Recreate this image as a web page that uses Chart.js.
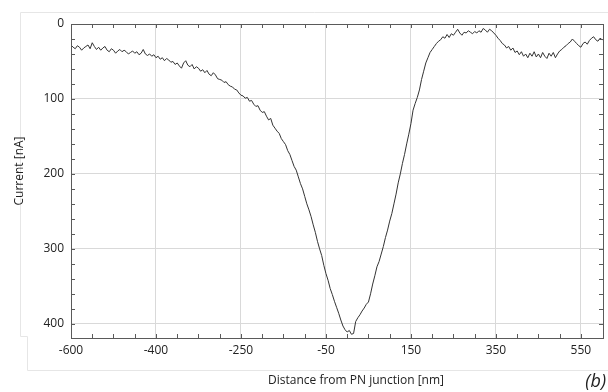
<!DOCTYPE html>
<html>
<head>
<meta charset="utf-8">
<script src="https://cdn.jsdelivr.net/npm/chart.js@4.4.1/dist/chart.umd.min.js"></script>
<style>
  html, body { margin: 0; padding: 0; background: #fff; }
  #wrap { width: 608px; height: 392px; }
</style>
</head>
<body>
<div id="wrap"><canvas id="myChart" width="608" height="392"></canvas></div>
<script>
// distance from the junction [nm] and measured current [nA]
const distance = [
  -650, -645, -640, -635, -630, -625, -620, -615, -610, -605,
  -600, -595, -590, -585, -580, -575, -570, -565, -560, -555,
  -550, -545, -540, -535, -530, -525, -520, -515, -510, -505,
  -500, -495, -490, -485, -480, -475, -470, -465, -460, -455,
  -450, -445, -440, -435, -430, -425, -420, -415, -410, -405,
  -400, -395, -390, -385, -380, -375, -370, -365, -360, -355,
  -350, -345, -340, -335, -330, -325, -320, -315, -310, -305,
  -300, -295, -290, -285, -280, -275, -270, -265, -260, -255,
  -250, -245, -240, -235, -230, -225, -220, -215, -210, -205,
  -200, -195, -190, -185, -180, -175, -170, -165, -160, -155,
  -150, -145, -140, -135, -130, -125, -120, -115, -110, -105,
  -100, -95, -90, -85, -80, -75, -70, -65, -60, -55,
  -50, -45, -40, -35, -30, -25, -20, -15, -10, -5,
  0, 5, 10, 15, 20, 25, 30, 35, 40, 45,
  50, 55, 60, 65, 70, 75, 80, 85, 90, 95,
  100, 105, 110, 115, 120, 125, 130, 135, 140, 145,
  150, 155, 160, 165, 170, 175, 180, 185, 190, 195,
  200, 205, 210, 215, 220, 225, 230, 235, 240, 245,
  250, 255, 260, 265, 270, 275, 280, 285, 290, 295,
  300, 305, 310, 315, 320, 325, 330, 335, 340, 345,
  350, 355, 360, 365, 370, 375, 380, 385, 390, 395,
  400, 405, 410, 415, 420, 425, 430, 435, 440, 445,
  450, 455, 460, 465, 470, 475, 480, 485, 490, 495,
  500, 505, 510, 515, 520, 525, 530, 535, 540, 545,
  550, 555, 560, 565, 570, 575, 580, 585, 590, 595,
  600
];
const current = [
  28, 31, 33, 29, 31, 35, 32, 30, 28, 33,
  25, 30, 34, 31, 35, 32, 30, 35, 37, 33,
  35, 39, 36, 34, 37, 35, 37, 40, 38, 36,
  39, 37, 41, 39, 34, 40, 42, 40, 43, 41,
  45, 43, 47, 45, 49, 46, 48, 51, 50, 54,
  52, 56, 59, 52, 49, 55, 57, 54, 60, 57,
  59, 63, 61, 65, 62, 67, 69, 65, 68, 73,
  74, 75, 78, 77, 81, 83, 84, 87, 88, 92,
  95, 96, 99, 98, 103, 102, 107, 110, 109, 115,
  118, 117, 123, 128, 126, 135, 139, 143, 146, 153,
  157, 161, 169, 174, 182, 190, 195, 204, 213, 220,
  230, 240, 248, 257, 268, 278, 290, 300, 309, 322,
  333, 342, 353, 361, 370, 378, 386, 395, 403, 408,
  411, 409, 414, 413, 397, 392, 388, 383, 379, 374,
  371, 360, 347, 336, 324, 317, 307, 297, 285, 275,
  263, 253, 240, 227, 212, 200, 186, 174, 160, 147,
  133, 115, 106, 98, 88, 74, 63, 52, 45, 38,
  34, 30, 26, 23, 21, 17, 19, 14, 18, 13,
  15, 11, 7, 12, 15, 11, 12, 9, 11, 13,
  10, 12, 9, 11, 6, 8, 11, 7, 9, 12,
  15, 19, 22, 26, 28, 32, 30, 35, 32, 38,
  36, 41, 37, 43, 40, 45, 39, 43, 37, 44,
  40, 45, 38, 43, 46, 39, 43, 38, 45, 40,
  36, 34, 31, 29, 26, 24, 20, 23, 26, 29,
  31, 26, 24, 27, 22, 19, 17, 21, 23, 19,
  21
];

const xTickVals = [-650, -450, -250, -50, 150, 350, 550];
const xTickLabels = ['-600', '-400', '-250', '-50', '150', '350', '550'];
const xMinor = [-600, -550, -500, -400, -350, -300, -200, -150, -100, 0, 50, 100, 200, 250, 300, 400, 450, 500];
const yTickVals = [0, 100, 200, 300, 400];
const yMinor = [20, 40, 60, 80, 120, 140, 160, 180, 220, 240, 260, 280, 320, 340, 360, 380];

const fontFam = "'Open Sans', 'Noto Sans', sans-serif";

const frame = {
  id: 'frame',
  beforeDraw(chart) {
    const c = chart.ctx;
    c.save();
    c.strokeStyle = '#e6e6e6';
    c.lineWidth = 1;
    c.beginPath();
    c.moveTo(608, 12.5); c.lineTo(20.5, 12.5); c.lineTo(20.5, 336.5);
    c.lineTo(27.5, 336.5); c.lineTo(27.5, 370.5); c.lineTo(608, 370.5);
    c.stroke();
    c.restore();
  },
  afterDraw(chart) {
    const c = chart.ctx;
    const a = chart.chartArea;
    const xs = chart.scales.x, ys = chart.scales.y;
    c.save();
    c.strokeStyle = '#5a5a5a';
    c.lineWidth = 1;
    c.beginPath();
    [...xTickVals, ...xMinor].forEach(v => {
      const p = Math.round(xs.getPixelForValue(v)) + 0.5;
      c.moveTo(p, a.bottom); c.lineTo(p, a.bottom - 4);
      c.moveTo(p, a.top); c.lineTo(p, a.top + 4);
    });
    [...yTickVals, ...yMinor].forEach(v => {
      const p = Math.round(ys.getPixelForValue(v)) + 0.5;
      c.moveTo(a.left, p); c.lineTo(a.left + 4, p);
      c.moveTo(a.right, p); c.lineTo(a.right - 4, p);
    });
    c.stroke();
    c.strokeRect(Math.round(a.left) + 0.5, Math.round(a.top) + 0.5,
      Math.round(a.right - a.left), Math.round(a.bottom - a.top));

    c.fillStyle = '#222';
    c.textAlign = 'center';
    c.textBaseline = 'middle';
    c.font = "12px " + fontFam;
    c.fillText('Distance from PN junction [nm]', 356, 381);
    c.save();
    c.translate(20, 171);
    c.rotate(-Math.PI / 2);
    c.fillText('Current [nA]', 0, 0);
    c.restore();

    c.font = "italic 18px " + fontFam;
    c.textAlign = 'right';
    c.textBaseline = 'alphabetic';
    c.fillText('(b)', 606, 387);
    c.restore();
  }
};

new Chart(document.getElementById('myChart'), {
  type: 'line',
  data: {
    datasets: [{
      data: distance.map((d, i) => ({ x: d, y: current[i] })),
      borderColor: '#333333',
      borderWidth: 1,
      pointRadius: 0,
      fill: false,
      tension: 0
    }]
  },
  options: {
    responsive: false,
    animation: false,
    layout: { padding: { top: 24, right: 5, left: 0, bottom: 0 } },
    plugins: { legend: { display: false }, tooltip: { enabled: false } },
    scales: {
      x: {
        type: 'linear',
        min: -650,
        max: 602,
        afterBuildTicks: s => { s.ticks = xTickVals.map(v => ({ value: v })); },
        afterFit: s => { s.height = 54; },
        ticks: {
          callback: (v, i) => xTickLabels[i],
          color: '#222',
          font: { family: fontFam, size: 12 },
          padding: 5,
          maxRotation: 0
        },
        grid: { color: '#d9d9d9', drawTicks: false },
        border: { display: false }
      },
      y: {
        reverse: true,
        min: 0,
        max: 419,
        afterBuildTicks: s => { s.ticks = yTickVals.map(v => ({ value: v })); },
        afterFit: s => { s.width = 71; },
        ticks: {
          color: '#222',
          font: { family: fontFam, size: 12 },
          padding: 7
        },
        grid: { color: '#d9d9d9', drawTicks: false },
        border: { display: false }
      }
    }
  },
  plugins: [frame]
});
</script>
</body>
</html>
